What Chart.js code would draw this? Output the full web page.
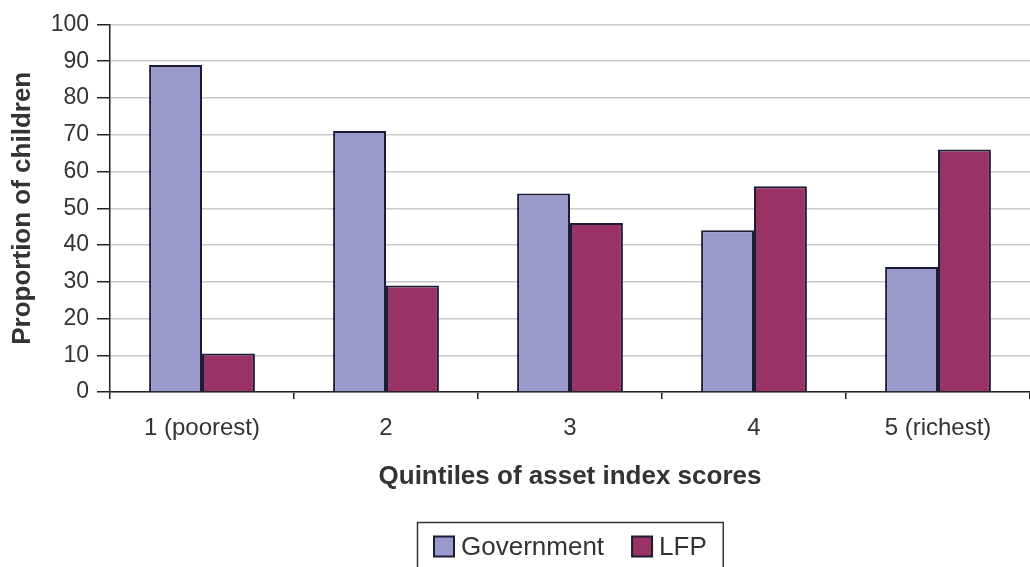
<!DOCTYPE html>
<html>
<head>
<meta charset="utf-8">
<script src="https://cdn.jsdelivr.net/npm/chart.js@4/dist/chart.umd.min.js"></script>
<style>
html,body{margin:0;padding:0;background:#fff;}
#wrap{width:1030px;height:567px;position:relative;}
</style>
</head>
<body>
<div id="wrap"><canvas id="c" width="1030" height="567"></canvas></div>
<script>
const categories = ["1 (poorest)", "2", "3", "4", "5 (richest)"];
const governmentValues = [89, 71, 54, 44, 34];
const lfpValues = [10.5, 29, 46, 56, 66];
const yTicks = [0, 10, 20, 30, 40, 50, 60, 70, 80, 90, 100];
const seriesNames = ["Government", "LFP"];

const FONT = "'Liberation Sans', Arial, Helvetica, sans-serif";
const TEXT = '#333333';
const AXIS = '#222222';
const BAR_BORDER = '#1c1c36';

// Boxed legend drawn below the x-axis title, from the datasets' own labels and colours
const boxedLegend = {
  id: 'boxedLegend',
  afterDraw(chart) {
    const ctx = chart.ctx;
    const ds = chart.data.datasets;
    const fontSize = 26, box = 20, gapBoxText = 7, gapItems = 28, padL = 17, padR = 16;
    ctx.save();
    ctx.font = fontSize + 'px ' + FONT;
    const widths = ds.map(d => ctx.measureText(d.label).width);
    let total = padL + padR;
    widths.forEach((w, i) => { total += box + gapBoxText + w + (i < widths.length - 1 ? gapItems : 0); });
    const cx = (chart.chartArea.left + chart.chartArea.right) / 2;
    const left = Math.round(cx - total / 2);
    const top = 522;
    const midY = 546.5;
    ctx.strokeStyle = '#333';
    ctx.lineWidth = 1.5;
    ctx.strokeRect(left + 0.5, top + 0.5, total, 80);
    let x = left + padL;
    ds.forEach((d, i) => {
      ctx.fillStyle = d.backgroundColor;
      ctx.fillRect(x, midY - box / 2, box, box);
      ctx.strokeStyle = BAR_BORDER;
      ctx.lineWidth = 2;
      ctx.strokeRect(x, midY - box / 2, box, box);
      x += box + gapBoxText;
      ctx.fillStyle = TEXT;
      ctx.textBaseline = 'middle';
      ctx.textAlign = 'left';
      ctx.fillText(d.label, x, midY + 1);
      x += widths[i] + gapItems;
    });
    ctx.restore();
  }
};

new Chart(document.getElementById('c'), {
  type: 'bar',
  data: {
    labels: categories,
    datasets: [
      { label: seriesNames[0], data: governmentValues, backgroundColor: '#9999CC', borderColor: BAR_BORDER, borderWidth: 2 },
      { label: seriesNames[1], data: lfpValues, backgroundColor: '#993366', borderColor: BAR_BORDER, borderWidth: 2 }
    ]
  },
  options: {
    responsive: false,
    animation: false,
    devicePixelRatio: 1,
    layout: { padding: { top: 24.5, left: 0, right: 0, bottom: 45 } },
    datasets: { bar: { categoryPercentage: 0.575, barPercentage: 1.0 } },
    plugins: {
      tooltip: { enabled: false },
      legend: { display: false }
    },
    scales: {
      x: {
        offset: true,
        grid: { display: true, drawOnChartArea: false, drawTicks: true, tickLength: 7, color: AXIS, lineWidth: 1.5, offset: true },
        border: { display: true, color: AXIS, width: 1.5 },
        ticks: { font: { family: FONT, size: 24 }, color: TEXT, padding: 15, maxRotation: 0 },
        title: { display: true, text: 'Quintiles of asset index scores', font: { family: FONT, size: 26, weight: 'bold' }, color: TEXT, padding: { top: 0, bottom: 30 } },
        afterFit(scale) { scale.height = 130; }
      },
      y: {
        min: 0, max: 100,
        afterBuildTicks(scale) { scale.ticks = yTicks.map(v => ({ value: v })); },
        grid: { color: '#c8c8c8', lineWidth: 1.5, tickColor: AXIS, tickLength: 13 },
        border: { display: true, color: AXIS, width: 1.5 },
        ticks: { font: { family: FONT, size: 23 }, color: TEXT, padding: 8 },
        title: { display: true, text: 'Proportion of children', font: { family: FONT, size: 26, weight: 'bold' }, color: TEXT, padding: { top: 7, bottom: 0 } },
        afterFit(scale) { scale.width = 110; }
      }
    }
  },
  plugins: [boxedLegend]
});
</script>
</body>
</html>
